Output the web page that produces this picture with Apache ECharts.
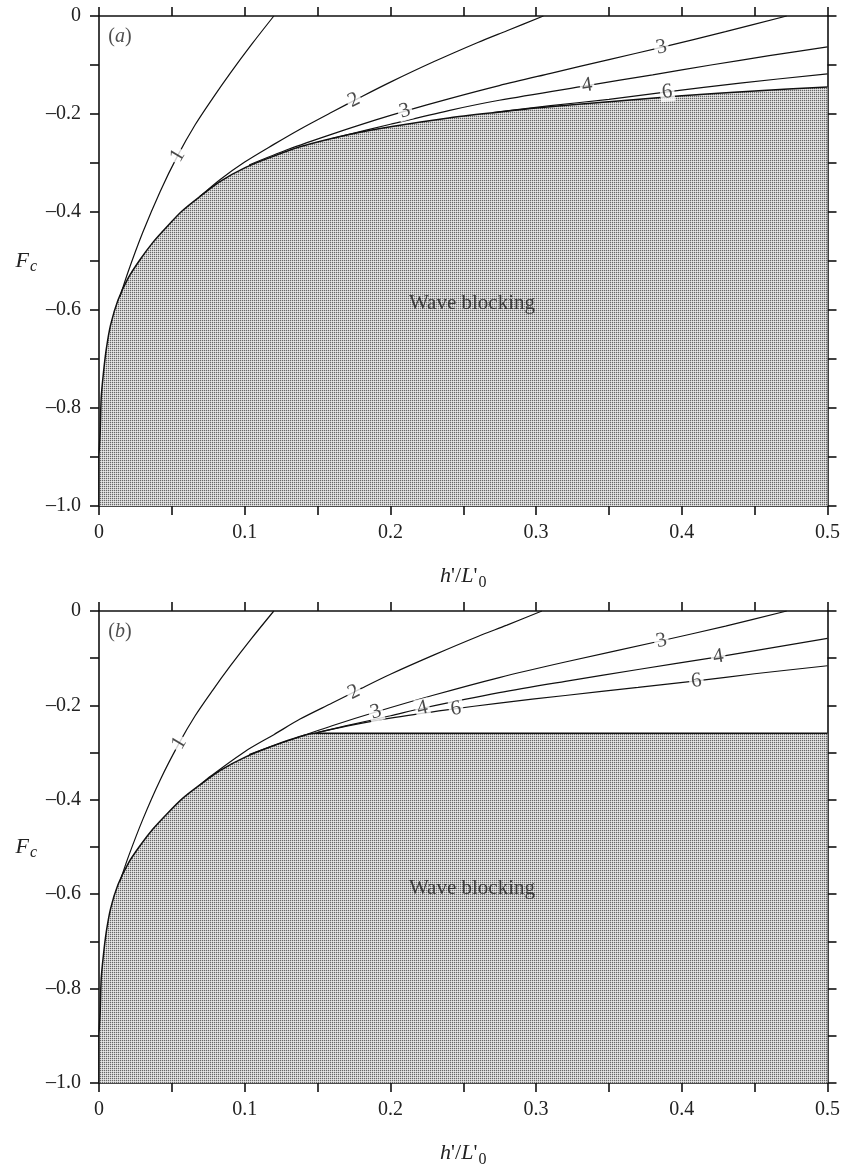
<!DOCTYPE html>
<html><head><meta charset="utf-8">
<script src="https://cdn.jsdelivr.net/npm/echarts/dist/echarts.min.js"></script>
<style>html,body{margin:0;padding:0;background:#fff}#c{width:843px;height:1169px}</style>
</head><body><div id="c"></div>
<script>
// ---------- tick labels ----------
const xLabelValues = [0, 0.1, 0.2, 0.3, 0.4, 0.5];
const xLabels = ['0', '0.1', '0.2', '0.3', '0.4', '0.5'];
const yLabelValues = [0, -0.2, -0.4, -0.6, -0.8, -1.0];
const yLabels = ['0', '\u20130.2', '\u20130.4', '\u20130.6', '\u20130.8', '\u20131.0'];

// ---------- panel (a) ----------
const aBoundary = [[0,-1.0],[0,-0.9],[0.0008,-0.85],[0.0015,-0.78],[0.003,-0.73],[0.005,-0.68],[0.008,-0.63],[0.013,-0.58],[0.02,-0.535],[0.028,-0.498],[0.037,-0.462],[0.0466,-0.43],[0.057,-0.398],[0.069,-0.369],[0.083,-0.338],[0.1,-0.31],[0.12,-0.286],[0.138,-0.267],[0.17,-0.243],[0.2,-0.226],[0.24,-0.208],[0.275,-0.196],[0.3,-0.188],[0.35,-0.175],[0.4,-0.163],[0.45,-0.153],[0.5,-0.145]];
const aCurve1 = [[0.0144,-0.573],[0.02,-0.522],[0.03,-0.442],[0.042,-0.358],[0.054,-0.285],[0.066,-0.222],[0.078,-0.168],[0.09,-0.117],[0.105,-0.057],[0.12,0]];
const aCurve2 = [[0.069,-0.369],[0.083,-0.334],[0.1,-0.298],[0.12,-0.262],[0.138,-0.231],[0.16,-0.196],[0.18,-0.165],[0.2,-0.135],[0.23,-0.093],[0.26,-0.054],[0.28,-0.03],[0.305,0]];
const aCurve3 = [[0.103,-0.304],[0.13,-0.272],[0.16,-0.241],[0.19,-0.212],[0.21,-0.194],[0.24,-0.169],[0.2747,-0.142],[0.31,-0.117],[0.35,-0.089],[0.386,-0.064],[0.43,-0.032],[0.472,0]];
const aCurve4 = [[0.16,-0.25],[0.2,-0.221],[0.24,-0.193],[0.2747,-0.172],[0.335,-0.142],[0.38,-0.12],[0.42,-0.1],[0.46,-0.081],[0.5,-0.063]];
const aCurve6 = [[0.27,-0.197],[0.31,-0.183],[0.35,-0.17],[0.39,-0.155],[0.44,-0.137],[0.5,-0.118]];
const aLabelText = ['1','2','3','3','4','6'];
const aLabelX = [0.054, 0.175, 0.21, 0.386, 0.335, 0.39];
const aLabelY = [-0.285, -0.172, -0.194, -0.064, -0.142, -0.155];

// ---------- panel (b) ----------
const bBoundary = [[0,-1.0],[0,-0.9],[0.0008,-0.85],[0.0015,-0.78],[0.003,-0.73],[0.005,-0.68],[0.008,-0.63],[0.013,-0.58],[0.02,-0.535],[0.028,-0.498],[0.037,-0.462],[0.0466,-0.43],[0.057,-0.398],[0.069,-0.369],[0.083,-0.338],[0.1,-0.31],[0.12,-0.285],[0.138,-0.266],[0.148,-0.259],[0.5,-0.259]];
const bCurve1 = [[0.0144,-0.573],[0.02,-0.522],[0.03,-0.442],[0.042,-0.358],[0.055,-0.28],[0.066,-0.222],[0.078,-0.168],[0.09,-0.117],[0.105,-0.057],[0.12,0]];
const bCurve2 = [[0.069,-0.369],[0.077,-0.349],[0.1,-0.298],[0.12,-0.262],[0.138,-0.229],[0.16,-0.195],[0.18,-0.164],[0.2,-0.134],[0.23,-0.093],[0.26,-0.054],[0.28,-0.03],[0.304,0]];
const bCurve3 = [[0.103,-0.304],[0.12,-0.285],[0.14,-0.264],[0.16,-0.243],[0.19,-0.214],[0.23,-0.178],[0.2747,-0.141],[0.32,-0.108],[0.386,-0.063],[0.43,-0.032],[0.472,0]];
const bCurve4 = [[0.15,-0.257],[0.17,-0.243],[0.2,-0.222],[0.222,-0.206],[0.2747,-0.173],[0.32,-0.149],[0.37,-0.124],[0.425,-0.097],[0.5,-0.058]];
const bCurve6 = [[0.148,-0.259],[0.17,-0.244],[0.2,-0.227],[0.24,-0.209],[0.2747,-0.195],[0.32,-0.179],[0.37,-0.162],[0.41,-0.148],[0.45,-0.133],[0.5,-0.116]];
const bLabelText = ['1','2','3','3','4','4','6','6'];
const bLabelX = [0.055, 0.175, 0.19, 0.386, 0.222, 0.425, 0.245, 0.41];
const bLabelY = [-0.28, -0.172, -0.214, -0.063, -0.206, -0.097, -0.207, -0.148];

// ---------- styles (rotation of contour labels, degrees) ----------
const aLabelRot = [59, 27, 17, 12, 9, 6];
const bLabelRot = [59, 27, 17, 12, 13, 9, 8, 6];

const SERIF = 'Liberation Serif';
const INK = '#111';

function pattern() {
  const c = document.createElement('canvas');
  c.width = 2; c.height = 2;
  const g = c.getContext('2d');
  g.fillStyle = '#e8e8e8'; g.fillRect(0,0,2,2);
  g.fillStyle = '#666'; g.fillRect(0,0,1,1);
  g.fillStyle = '#cacaca'; g.fillRect(1,0,1,1); g.fillRect(0,1,1,1);
  return c;
}
const pat = pattern();

function xFmt(v){ for (let i=0;i<xLabelValues.length;i++) if (Math.abs(v-xLabelValues[i])<1e-6) return xLabels[i]; return ''; }
function yFmt(v){ for (let i=0;i<yLabelValues.length;i++) if (Math.abs(v-yLabelValues[i])<1e-6) return yLabels[i]; return ''; }

const lineStyleAxis = { color: INK, width: 1.6 };
const tickCommon = { show: true, inside: false, length: 9, lineStyle: { color: INK, width: 1.6 } };

function makeAxes(g) {
  const xs = [
    { type:'value', gridIndex:g, position:'bottom', min:0, max:0.5, interval:0.05,
      axisLine:{show:true, onZero:false, lineStyle:lineStyleAxis}, axisTick:tickCommon,
      axisLabel:{show:true, formatter:xFmt, fontFamily:SERIF, fontSize:20, color:'#222', margin:17},
      splitLine:{show:false},
      name:'{i|h}{n|\'/}{i|L}{n|\'}{s|0}', nameLocation:'middle', nameGap:55,
      nameTextStyle:{ rich:{
        i:{fontFamily:SERIF, fontStyle:'italic', fontSize:22, color:'#222'},
        n:{fontFamily:SERIF, fontSize:22, color:'#222'},
        s:{fontFamily:SERIF, fontSize:16, color:'#222', padding:[14,0,0,1]} } } },
    { type:'value', gridIndex:g, position:'top', min:0, max:0.5, interval:0.05,
      axisLine:{show:true, onZero:false, lineStyle:lineStyleAxis}, axisTick:tickCommon,
      axisLabel:{show:false}, splitLine:{show:false} }
  ];
  const ys = [
    { type:'value', gridIndex:g, position:'left', min:-1, max:0, interval:0.1,
      axisLine:{show:true, onZero:false, lineStyle:lineStyleAxis}, axisTick:tickCommon,
      axisLabel:{show:true, formatter:yFmt, fontFamily:SERIF, fontSize:20, color:'#222', margin:18},
      splitLine:{show:false},
      name:'{i|F}{s|c}', nameLocation:'middle', nameRotate:0, nameGap:62,
      nameTextStyle:{ rich:{
        i:{fontFamily:SERIF, fontStyle:'italic', fontSize:22, color:'#222'},
        s:{fontFamily:SERIF, fontStyle:'italic', fontSize:16, color:'#222', padding:[12,0,0,1]} } } },
    { type:'value', gridIndex:g, position:'right', min:-1, max:0, interval:0.1,
      axisLine:{show:true, onZero:false, lineStyle:lineStyleAxis}, axisTick:tickCommon,
      axisLabel:{show:false}, splitLine:{show:false} }
  ];
  return {xs, ys};
}
const A = makeAxes(0), B = makeAxes(1);

function curve(data, xi, yi, w) {
  return { type:'line', xAxisIndex:xi, yAxisIndex:yi, data:data, showSymbol:false, smooth:0.3,
    lineStyle:{color:INK, width:w||1.2}, z:3, silent:true, animation:false };
}
function boundary(data, xi, yi) {
  return { type:'line', xAxisIndex:xi, yAxisIndex:yi, data:data, showSymbol:false, smooth:0.25,
    lineStyle:{color:INK, width:1.5}, areaStyle:{origin:'start', color:{image:pat, repeat:'repeat'}, opacity:1},
    z:2, silent:true, animation:false };
}
const clear = 'rgba(0,0,0,0)';
function labels(texts, xs, ys, rots, xi, yi) {
  return { type:'scatter', xAxisIndex:xi, yAxisIndex:yi, symbol:'circle', symbolSize:2, itemStyle:{color:clear}, z:10, silent:true, animation:false,
    data: texts.map((t,i)=>({ value:[xs[i], ys[i]], label:{ show:true, position:'inside', formatter:t, rotate:rots[i],
      fontFamily:SERIF, fontSize:21, color:'#1a1a1a', backgroundColor:'#fff', padding:[1,2,0,2], lineHeight:18 } })) };
}
function textAt(x, y, text, xi, yi, opts) {
  return { type:'scatter', xAxisIndex:xi, yAxisIndex:yi, symbol:'circle', symbolSize:2, itemStyle:{color:clear}, z:11, silent:true, animation:false,
    data:[{ value:[x,y], label:Object.assign({ show:true, position:'inside', formatter:text, fontFamily:SERIF, fontSize:20, color:'#1a1a1a' }, opts||{}) }] };
}
const panelRich = { rich:{ n:{fontFamily:SERIF, fontSize:20, color:'#222'}, i:{fontFamily:SERIF, fontStyle:'italic', fontSize:20, color:'#222'} } };

const option = {
  backgroundColor:'#fff',
  animation:false,
  grid:[ {left:99, top:16, width:730, height:490}, {left:99, top:611, width:730, height:490} ],
  xAxis:[...A.xs, ...B.xs],
  yAxis:[...A.ys, ...B.ys],
  series:[
    boundary(aBoundary, 0, 0),
    curve(aCurve1, 0, 0), curve(aCurve2, 0, 0), curve(aCurve3, 0, 0), curve(aCurve4, 0, 0), curve(aCurve6, 0, 0),
    labels(aLabelText, aLabelX, aLabelY, aLabelRot, 0, 0),
    textAt(0.256, -0.587, 'Wave blocking', 0, 0, {fontSize:21}),
    textAt(0.0144, -0.043, '{n|(}{i|a}{n|)}', 0, 0, panelRich),
    boundary(bBoundary, 2, 2),
    curve(bCurve1, 2, 2), curve(bCurve2, 2, 2), curve(bCurve3, 2, 2), curve(bCurve4, 2, 2), curve(bCurve6, 2, 2),
    labels(bLabelText, bLabelX, bLabelY, bLabelRot, 2, 2),
    textAt(0.256, -0.587, 'Wave blocking', 2, 2, {fontSize:21}),
    textAt(0.0144, -0.043, '{n|(}{i|b}{n|)}', 2, 2, panelRich)
  ]
};
const chart = echarts.init(document.getElementById('c'), null, {renderer:'canvas'});
chart.setOption(option);
</script></body></html>
